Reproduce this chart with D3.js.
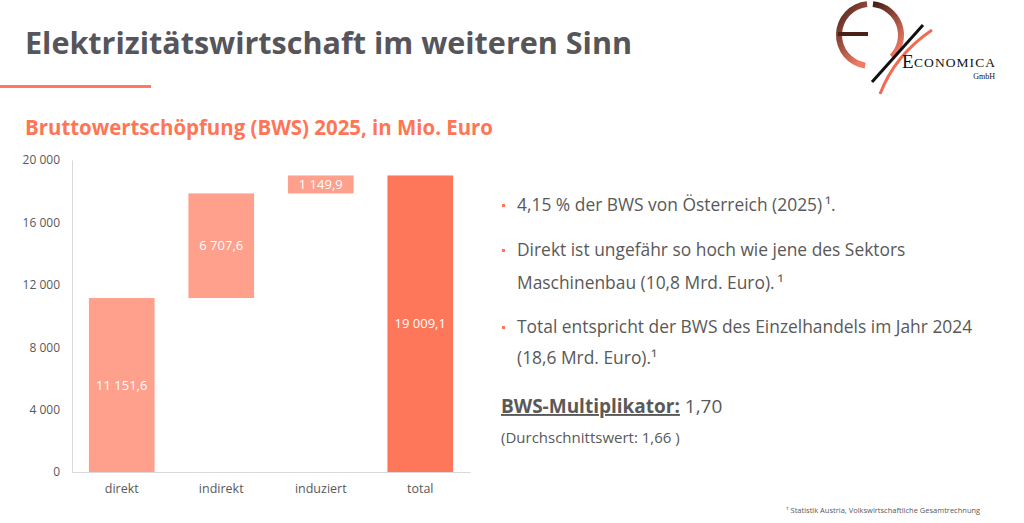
<!DOCTYPE html>
<html>
<head>
<meta charset="utf-8">
<script src="https://cdn.jsdelivr.net/npm/d3@7"></script>
<style>
  body { margin: 0; background: #fff; }
  text { font-family: "Open Sans", sans-serif; }
</style>
</head>
<body>
<div id="chart"></div>
<script>
// Data
var categories = ["direkt", "indirekt", "induziert", "total"];
var values = [11151.6, 6707.6, 1149.9, 19009.1];
var isTotal = [false, false, false, true];
var yTicks = [0, 4000, 8000, 12000, 16000, 20000];

var bullets = [
  ["4,15 % der BWS von Österreich (2025)\u2009¹."],
  ["Direkt ist ungefähr so hoch wie jene des Sektors", "Maschinenbau (10,8 Mrd. Euro).\u2009¹"],
  ["Total entspricht der BWS des Einzelhandels im Jahr 2024", "(18,6 Mrd. Euro).¹"]
];

var svgWidth = 1024;
var svgHeight = 523;

var svg = d3.select("#chart")
  .append("svg")
  .attr("width", svgWidth)
  .attr("height", svgHeight);

var de = d3.formatLocale({ decimal: ",", thousands: "\u00a0", grouping: [3], currency: ["", " €"] });
var fmtTick = de.format(",.0f");
var fmtVal = de.format(",.1f");

// Header
svg.append("text")
  .attr("x", 25).attr("y", 54)
  .attr("font-weight", "bold")
  .attr("font-size", 30)
  .attr("fill", "#55555a")
  .attr("textLength", 607)
  .attr("lengthAdjust", "spacingAndGlyphs")
  .text("Elektrizitätswirtschaft im weiteren Sinn");

svg.append("rect")
  .attr("x", 0).attr("y", 85)
  .attr("width", 151).attr("height", 3)
  .attr("fill", "#ff7a5c");

svg.append("text")
  .attr("x", 25).attr("y", 135)
  .attr("font-weight", "bold")
  .attr("font-size", 21)
  .attr("fill", "#ff7556")
  .attr("textLength", 468)
  .attr("lengthAdjust", "spacingAndGlyphs")
  .text("Bruttowertschöpfung (BWS) 2025, in Mio. Euro");

// Logo
var logo = svg.append("g");
var grad = svg.append("defs").append("linearGradient")
  .attr("id", "lg").attr("x1", 0).attr("y1", 0).attr("x2", 0.6).attr("y2", 1);
grad.append("stop").attr("offset", "0%").attr("stop-color", "#3a1a14");
grad.append("stop").attr("offset", "100%").attr("stop-color", "#f07a62");
var arc = d3.arc().innerRadius(28).outerRadius(34);
logo.append("path")
  .attr("transform", "translate(870,35)")
  .attr("d", arc({ startAngle: Math.PI * 1.05, endAngle: Math.PI * 1.97 }))
  .attr("fill", "url(#lg)");
logo.append("path")
  .attr("transform", "translate(870,35)")
  .attr("d", arc({ startAngle: Math.PI * 0.03, endAngle: Math.PI * 0.75 }))
  .attr("fill", "url(#lg)");
logo.append("rect")
  .attr("x", 838).attr("y", 32).attr("width", 30).attr("height", 4)
  .attr("fill", "#4a2018");
logo.append("line")
  .attr("x1", 872).attr("y1", 82).attr("x2", 923).attr("y2", 25)
  .attr("stroke", "#111").attr("stroke-width", 3);
logo.append("path")
  .attr("d", "M880,94 Q895,55 932,30")
  .attr("fill", "none").attr("stroke", "#f26a50").attr("stroke-width", 3);
logo.append("text")
  .attr("x", 902).attr("y", 68)
  .style("font-family", "'Liberation Serif', serif")
  .attr("font-size", 19)
  .attr("fill", "#111")
  .text("E");
logo.append("text")
  .attr("x", 914).attr("y", 67)
  .style("font-family", "'Liberation Serif', serif")
  .attr("font-size", 13.5)
  .attr("fill", "#111")
  .attr("textLength", 81)
  .text("CONOMICA");
logo.append("text")
  .attr("x", 995).attr("y", 79)
  .attr("text-anchor", "end")
  .style("font-family", "'Liberation Serif', serif")
  .attr("font-size", 8)
  .attr("fill", "#111")
  .text("GmbH");

// Chart
var chartMargin = { top: 160, left: 72 };
var chartWidth = 398;
var chartHeight = 312;

var chartGroup = svg.append("g")
  .attr("transform", `translate(${chartMargin.left}, ${chartMargin.top})`);

var xScale = d3.scaleBand()
  .domain(categories)
  .range([0, chartWidth])
  .paddingInner(0.34)
  .paddingOuter(0.17);

var yScale = d3.scaleLinear()
  .domain([0, 20000])
  .range([chartHeight, 0]);

// waterfall bases
var bases = [];
var run = 0;
values.forEach(function(v, i) {
  if (isTotal[i]) { bases.push(0); }
  else { bases.push(run); run += v; }
});

var leftAxis = d3.axisLeft(yScale)
  .tickValues(yTicks)
  .tickFormat(fmtTick)
  .tickSize(0)
  .tickPadding(12);

var yAxisG = chartGroup.append("g").call(leftAxis);
yAxisG.select(".domain").attr("stroke", "#d9d9d9");
yAxisG.selectAll("text")
  .attr("font-size", 12)
  .attr("fill", "#595959");

var bottomAxis = d3.axisBottom(xScale).tickSize(0).tickPadding(12);
var xAxisG = chartGroup.append("g")
  .attr("transform", `translate(0, ${chartHeight})`)
  .call(bottomAxis);
xAxisG.select(".domain").attr("stroke", "#d9d9d9");
xAxisG.selectAll("text")
  .attr("font-size", 12.5)
  .attr("fill", "#595959");

chartGroup.selectAll("rect.bar")
  .data(values)
  .enter()
  .append("rect")
  .attr("class", "bar")
  .attr("x", (d, i) => xScale(categories[i]))
  .attr("width", xScale.bandwidth())
  .attr("y", (d, i) => yScale(bases[i] + d))
  .attr("height", (d, i) => yScale(bases[i]) - yScale(bases[i] + d))
  .attr("fill", (d, i) => isTotal[i] ? "#ff775a" : "#ffa08d");

chartGroup.selectAll("text.val")
  .data(values)
  .enter()
  .append("text")
  .attr("class", "val")
  .attr("x", (d, i) => xScale(categories[i]) + xScale.bandwidth() / 2)
  .attr("y", (d, i) => (yScale(bases[i] + d) + yScale(bases[i])) / 2)
  .attr("dy", "0.35em")
  .attr("text-anchor", "middle")
  .attr("font-size", 13)
  .attr("fill", "#fff")
  .text(d => fmtVal(d));

// Right-hand notes
var lineYs = [[211], [256, 289], [333, 364]];
var notes = svg.append("g");
bullets.forEach(function(lines, i) {
  notes.append("rect")
    .attr("x", 502).attr("y", lineYs[i][0] - 7)
    .attr("width", 3).attr("height", 3)
    .attr("fill", "#ff7556");
  lines.forEach(function(line, j) {
    notes.append("text")
      .attr("x", 517).attr("y", lineYs[i][j])
      .attr("font-size", 17.4)
      .attr("fill", "#595959")
      .text(line);
  });
});

var mult = notes.append("text")
  .attr("x", 501).attr("y", 413)
  .attr("font-size", 19)
  .attr("fill", "#595959");
mult.append("tspan")
  .attr("font-weight", "bold")
  .attr("text-decoration", "underline")
  .text("BWS-Multiplikator:");
mult.append("tspan").text(" 1,70");

notes.append("text")
  .attr("x", 501).attr("y", 443)
  .attr("font-size", 15)
  .attr("fill", "#595959")
  .text("(Durchschnittswert: 1,66 )");

svg.append("text")
  .attr("x", 786).attr("y", 513)
  .attr("font-size", 7.5)
  .attr("fill", "#595959")
  .text("¹ Statistik Austria, Volkswirtschaftliche Gesamtrechnung");
</script>
</body>
</html>
